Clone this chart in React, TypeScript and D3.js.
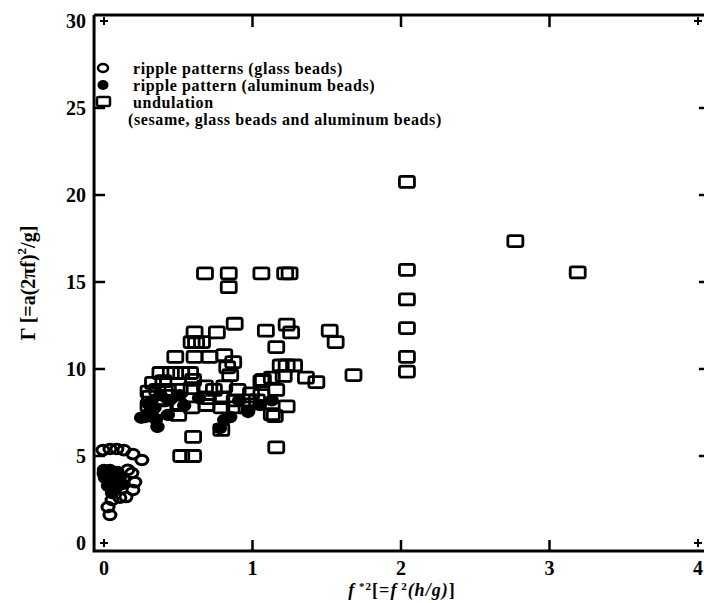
import React from "react";
import * as d3 from "d3";

// ---- data ----
const xTicks = [0, 1, 2, 3, 4];
const yTicks = [0, 5, 10, 15, 20, 25, 30];

const rippleGlass: [number, number][] = [
  [-0.007, 5.34], [0.04, 5.4], [0.087, 5.4], [0.134, 5.34], [0.195, 5.11], [0.255, 4.77],
  [0.0, 4.0], [0.16, 4.2], [0.188, 4.02], [0.208, 3.5], [0.195, 3.05], [0.148, 2.64],
  [0.054, 2.47], [0.027, 2.07], [0.04, 1.61], [0.107, 2.6], [0.13, 3.7],
];

const rippleAluminum: [number, number][] = [
  [0.275, 7.24], [0.36, 6.67], [0.34, 7.76], [0.43, 7.36], [0.31, 7.53], [0.25, 7.2],
  [0.38, 8.5], [0.44, 8.2], [0.51, 8.5], [0.54, 7.9], [0.64, 8.33], [0.81, 7.07],
  [0.78, 6.6], [0.97, 7.53], [0.85, 7.24], [1.13, 8.2], [0.91, 8.2], [1.05, 7.93],
  [0.35, 7.1], [0.3, 8.0],
  [0.0, 4.2], [0.04, 4.2], [0.09, 4.08], [0.007, 3.74], [0.054, 3.62], [0.107, 3.8],
  [0.027, 3.28], [0.08, 3.16], [0.054, 2.87], [0.12, 3.39],
];

const undulation: [number, number][] = [
  [2.04, 20.75], [2.04, 15.7], [2.04, 14.0], [2.04, 12.35], [2.04, 10.7], [2.04, 9.85],
  [2.77, 17.35], [3.19, 15.55], [1.68, 9.65],
  [1.52, 12.2], [1.56, 11.55], [1.36, 9.5], [1.43, 9.25],
  [1.23, 12.55], [1.26, 12.1], [1.09, 12.2], [1.16, 11.26],
  [1.19, 10.2], [1.23, 10.2], [1.28, 10.2], [1.21, 9.6],
  [1.07, 9.37], [1.16, 8.8], [1.23, 7.85], [1.15, 7.3], [1.16, 5.5], [1.13, 7.4],
  [0.68, 15.5], [0.84, 15.5], [0.84, 14.7], [1.06, 15.5], [1.22, 15.5], [1.25, 15.5],
  [0.61, 12.1], [0.76, 12.1], [0.88, 12.6], [0.62, 11.55], [0.59, 11.55], [0.66, 11.55],
  [0.48, 10.7], [0.61, 10.7], [0.71, 10.7], [0.81, 10.8], [0.87, 10.4], [0.85, 9.65], [0.83, 10.1],
  [0.38, 9.77], [0.45, 9.77], [0.52, 9.77], [0.58, 9.77], [0.6, 9.37],
  [0.36, 8.8], [0.43, 8.8], [0.51, 8.8], [0.59, 8.9], [0.68, 9.0], [0.74, 8.8],
  [0.81, 9.0], [0.9, 8.8], [0.99, 8.6], [1.06, 8.5],
  [1.06, 9.3], [1.13, 9.5],
  [0.7, 8.33], [0.79, 8.33], [0.88, 8.2], [0.97, 8.2], [1.03, 8.2],
  [0.5, 7.93], [0.59, 7.8], [0.69, 7.93], [0.79, 7.8], [0.88, 7.8], [0.96, 7.8],
  [0.31, 8.4], [0.38, 8.2], [0.44, 8.45], [0.3, 7.9], [0.41, 7.64], [0.5, 7.36],
  [0.33, 9.2], [0.4, 9.3], [0.3, 8.7],
  [0.79, 6.5], [0.6, 6.1], [0.52, 5.0], [0.6, 5.0],
];

const legendLabels = [
  "ripple patterns (glass beads)",
  "ripple pattern (aluminum beads)",
  "undulation",
  "(sesame, glass beads and aluminum beads)",
];

const W = 704;
const H = 603;
const FONT = "'Liberation Serif', 'Times New Roman', serif";

export default function App() {
  const x = d3.scaleLinear().domain([0, 4]).range([104, 698]);
  const y = d3.scaleLinear().domain([0, 30]).range([543, 21]);
  const left = x(-0.067);
  const right = x(4.06);
  const top = y(30.34);
  const bottom = y(-0.46);

  const sqW = 15, sqH = 11;

  return (
    <svg
      width={W}
      height={H}
      style={{ position: "absolute", left: 0, top: 0, background: "#fff" }}
      fontFamily={FONT}
    >
      <rect x={0} y={0} width={W} height={H} fill="#fff" />
      {/* frame */}
      <path
        d={`M${left},${top} L${right},${top} M${left},${top} L${left},${bottom} L${right},${bottom} L${right},${top}`}
        fill="none"
        stroke="#000"
        strokeWidth={3}
      />
      {/* left ticks + labels */}
      {yTicks.map((t) => (
        <g key={"y" + t}>
          {t > 0 && t < 30 && (
            <line x1={left} x2={left + 11} y1={y(t)} y2={y(t)} stroke="#000" strokeWidth={2.5} />
          )}
          {t > 0 && t < 30 && (
            <line x1={right - 8} x2={right} y1={y(t)} y2={y(t)} stroke="#000" strokeWidth={2.5} />
          )}
          <text
            x={left - 8}
            y={y(t)}
            textAnchor="end"
            dominantBaseline="central"
            fontSize={20}
            fontWeight="bold"
          >
            {t}
          </text>
        </g>
      ))}
      {/* bottom ticks + labels */}
      {xTicks.map((t) => (
        <g key={"x" + t}>
          {t > 0 && t < 4 && (
            <line x1={x(t)} x2={x(t)} y1={bottom} y2={bottom - 11} stroke="#000" strokeWidth={2.5} />
          )}
          {t > 0 && t < 4 && (
            <line x1={x(t)} x2={x(t)} y1={top} y2={top + 12} stroke="#000" strokeWidth={2.5} />
          )}
          <text x={x(t)} y={bottom + 17} textAnchor="middle" dominantBaseline="central" fontSize={20} fontWeight="bold">
            {t}
          </text>
        </g>
      ))}
      {/* corner crosses */}
      {[
        [0, 0],
        [0, 30],
        [4, 0],
        [4, 30],
      ].map(([a, b], i) => (
        <path
          key={"c" + i}
          d={`M${x(a) - 4},${y(b)} L${x(a) + 4},${y(b)} M${x(a)},${y(b) - 4} L${x(a)},${y(b) + 4}`}
          stroke="#000"
          strokeWidth={2}
        />
      ))}

      {/* undulation squares */}
      {undulation.map(([a, b], i) => (
        <rect
          key={"u" + i}
          x={x(a) - sqW / 2}
          y={y(b) - sqH / 2}
          width={sqW}
          height={sqH}
          rx={2}
          fill="none"
          stroke="#000"
          strokeWidth={2.8}
        />
      ))}
      {/* glass ripple: open circles */}
      {rippleGlass.map(([a, b], i) => (
        <ellipse
          key={"g" + i}
          cx={x(a)}
          cy={y(b)}
          rx={6}
          ry={4.8}
          fill="none"
          stroke="#000"
          strokeWidth={3}
        />
      ))}
      {/* aluminum ripple: filled circles */}
      {rippleAluminum.map(([a, b], i) => (
        <ellipse key={"a" + i} cx={x(a)} cy={y(b)} rx={7.2} ry={6.2} fill="#000" />
      ))}

      {/* legend */}
      <ellipse cx={103} cy={68} rx={5} ry={4} fill="none" stroke="#000" strokeWidth={2.5} />
      <ellipse cx={103} cy={85} rx={5.5} ry={5} fill="#000" />
      <rect x={97} y={97} width={13} height={9} rx={1.5} fill="none" stroke="#000" strokeWidth={2.5} />
      {legendLabels.map((l, i) => (
        <text
          key={"l" + i}
          x={i === 3 ? 128 : 133}
          y={68 + i * 17}
          dominantBaseline="central"
          fontSize={16}
          letterSpacing={0.6}
          fontWeight="bold"
        >
          {l}
        </text>
      ))}

      {/* y label */}
      <text
        transform={`translate(28,283) rotate(-90)`}
        textAnchor="middle"
        dominantBaseline="central"
        fontSize={20}
        fontWeight="bold"
      >
        {"Γ [=a(2πf)"}
        <tspan fontSize={13} dy={-7}>2</tspan>
        <tspan dy={7}>{"/g]"}</tspan>
      </text>

      {/* x label */}
      <text x={402} y={596} textAnchor="middle" fontSize={18} fontWeight="bold" letterSpacing={1}>
        <tspan fontStyle="italic">f</tspan>
        <tspan fontSize={11} dy={-6}>{" *2"}</tspan>
        <tspan dy={6}>{"[="}</tspan>
        <tspan fontStyle="italic">f</tspan>
        <tspan fontSize={11} dy={-6}>{" 2"}</tspan>
        <tspan dy={6} fontStyle="italic">{"(h/g)"}</tspan>
        <tspan>{"]"}</tspan>
      </text>
    </svg>
  );
}
